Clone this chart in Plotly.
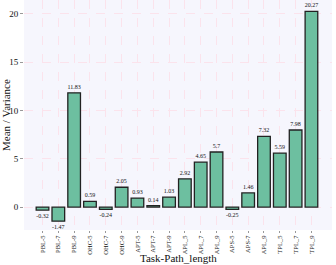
import plotly.graph_objects as go

categories = ["PBL-5", "PBL-7", "PBL-9", "OHC-5", "OHC-7", "OHC-9",
              "APT-5", "APT-7", "APT-9", "APL_5", "APL_7", "APL_9",
              "APS-5", "APS-7", "APL_9", "TPL_5", "TPL_7", "TPL_9"]
values = [-0.32, -1.47, 11.83, 0.59, -0.24, 2.05,
          0.93, 0.14, 1.03, 2.92, 4.65, 5.7,
          -0.25, 1.46, 7.32, 5.59, 7.98, 20.27]
value_labels = ["-0.32", "-1.47", "11.83", "0.59", "-0.24", "2.05",
                "0.93", "0.14", "1.03", "2.92", "4.65", "5.7",
                "-0.25", "1.46", "7.32", "5.59", "7.98", "20.27"]
y_ticks = [0, 5, 10, 15, 20]

positions = list(range(len(categories)))
font_family = "Liberation Serif"

fig = go.Figure(go.Bar(
    x=positions, y=values, width=0.8,
    marker=dict(color="#6dbfa0", line=dict(color="#222222", width=1.3)),
    text=value_labels, textposition="outside", constraintext="none",
    textfont=dict(size=6, family=font_family, color="#111111"),
    cliponaxis=False,
))

fig.update_layout(
    width=336, height=265,
    margin=dict(l=24, r=4, t=0, b=35),
    paper_bgcolor="white", plot_bgcolor="#f6f6fd",
    font=dict(family=font_family, color="#111111"),
    showlegend=False,
    bargap=0.2,
    annotations=[
        dict(text="Task-Path_length", xref="paper", yref="paper", x=0.5, y=0,
             yshift=-21, xanchor="center", yanchor="top", showarrow=False,
             borderpad=0,
             font=dict(size=11, family=font_family)),
        dict(text="Mean / Variance", xref="paper", yref="paper", x=0, y=0.5,
             xshift=-11, xanchor="right", yanchor="middle", textangle=-90,
             showarrow=False, borderpad=0, font=dict(size=11, family=font_family)),
    ],
)
fig.update_xaxes(
    range=[-1.17, 18.3], tickmode="array", tickvals=positions, ticktext=categories,
    tickangle=-90, tickfont=dict(size=6.5, family=font_family),
    showgrid=True, gridcolor="#fbe3ec", griddash="dash", gridwidth=0.6,
    zeroline=False, showline=False, ticks="outside", ticklen=2, tickcolor="#999",
    automargin=False,
)
fig.update_yaxes(
    range=[-2.38, 21.45], tickmode="array", tickvals=y_ticks,
    tickfont=dict(size=9, family=font_family),
    showgrid=True, gridcolor="#fbe3ec", griddash="dash", gridwidth=0.6,
    zeroline=False, showline=False, ticks="outside", ticklen=3, tickcolor="#999",
    automargin=False,
)

fig.write_html("out.html", config={"displayModeBar": False},
               post_script="document.body.style.margin='0';document.body.style.overflow='hidden';")
